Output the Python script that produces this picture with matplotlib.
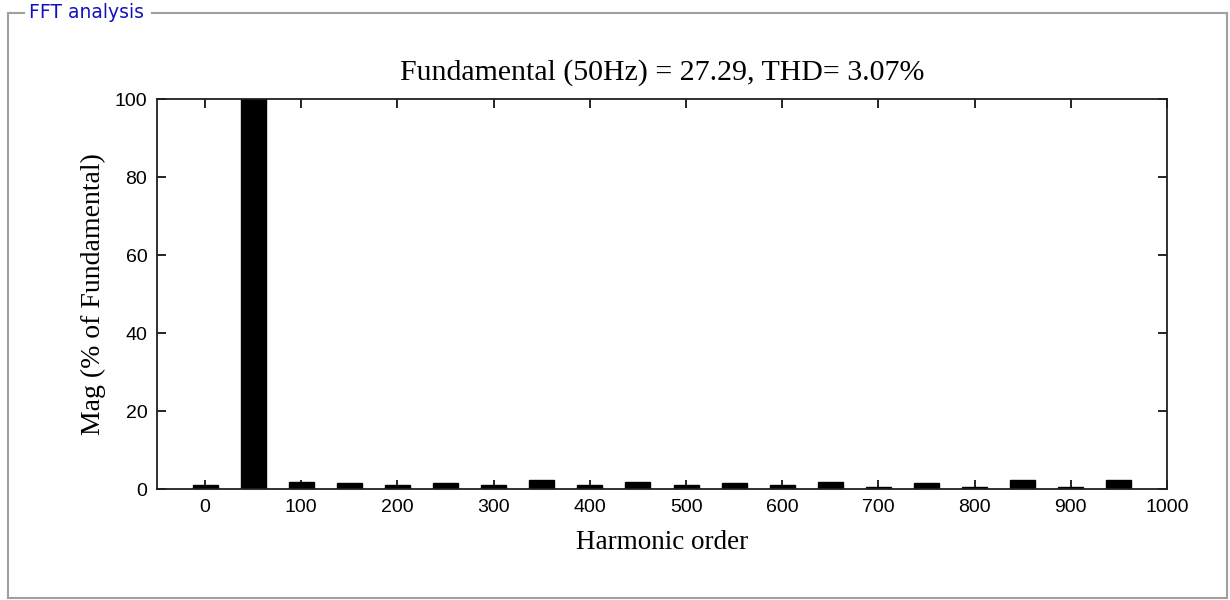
import matplotlib
matplotlib.use('Agg')
import matplotlib.pyplot as plt
from matplotlib.lines import Line2D

# harmonic spectrum, % of fundamental
orders = [0, 50, 100, 150, 200, 250, 300, 350, 400, 450,
          500, 550, 600, 650, 700, 750, 800, 850, 900, 950]
mag = [1.1, 100, 1.9, 1.45, 1.0, 1.45, 1.0, 2.2, 1.0, 1.9,
       1.0, 1.45, 1.0, 1.9, 0.6, 1.45, 0.6, 2.2, 0.6, 2.2]
xticks = [0, 100, 200, 300, 400, 500, 600, 700, 800, 900, 1000]
yticks = [0, 20, 40, 60, 80, 100]
fundamental = 27.29
thd = 3.07

fig = plt.figure(figsize=(12.3, 6.0), dpi=100)
fig.patch.set_facecolor('white')

# panel frame with caption
W, H = 1230, 600
frame = '#a0a0a0'
def px(x, y):
    return x / W, 1 - y / H
for (x0, y0), (x1, y1) in [((8, 13), (8, 598)), ((8, 598), (1227, 598)),
                           ((1227, 598), (1227, 13)), ((152, 13), (1227, 13)),
                           ((8, 13), (24, 13))]:
    a, b = px(x0, y0)
    c, d = px(x1, y1)
    fig.add_artist(Line2D([a, c], [b, d], color=frame, lw=1.5))
fig.text(29 / W, 1 - 13 / H, 'FFT analysis', color='#1010c0',
         fontsize=13.5, family='DejaVu Sans', va='center', ha='left')

ax = fig.add_axes([157 / W, 111 / H, 1010 / W, 390 / H])
ax.bar(orders, mag, width=26, color='black', edgecolor='black')
ax.set_xlim(-50, 1000)
ax.set_ylim(0, 100)
ax.set_xticks(xticks)
ax.set_yticks(yticks)
ax.tick_params(direction='in', length=6.5, width=1.2, top=True, right=True,
               labelsize=14, pad=7)
for lab in ax.get_xticklabels() + ax.get_yticklabels():
    lab.set_family('Liberation Sans')
for s in ax.spines.values():
    s.set_linewidth(1.3)
    s.set_color('#202020')

ax.set_title('Fundamental (50Hz) = %.2f, THD= %.2f%%' % (fundamental, thd),
             family='Liberation Serif', fontsize=21.5, pad=14)
ax.set_xlabel('Harmonic order', family='Liberation Serif', fontsize=19.5, labelpad=10)
ax.set_ylabel('Mag (% of Fundamental)', family='Liberation Serif', fontsize=20, labelpad=6)

fig.savefig('out.png', dpi=100)
